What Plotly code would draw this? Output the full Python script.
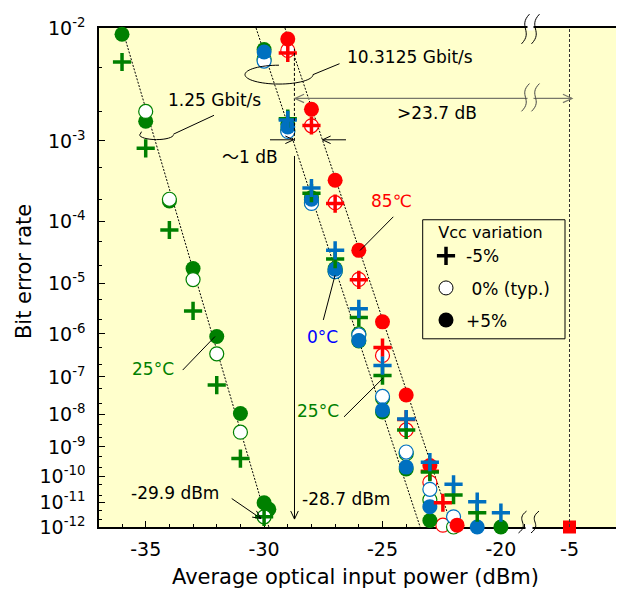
import numpy as np
import plotly.graph_objects as go

# ---------------- data ----------------
# 1.25 Gbit/s, 25 degC
g125_m5_x = [-36, -35, -34, -33, -32, -31, -30]
g125_m5_ber = [5.5e-3, 8.3e-4, 7.4e-5, 3.0e-6, 6.2e-8, 4.1e-10, 2.7e-12]
g125_typ_x = [-35, -34, -33, -32, -31, -30]
g125_typ_ber = [2.0e-3, 2.0e-4, 1.16e-5, 3.6e-7, 2.9e-9, 2.7e-12]
g125_p5_x = [-36, -35, -34, -33, -32, -31, -30, -29.8]
g125_p5_ber = [9.0e-3, 1.6e-3, 1.9e-4, 1.8e-5, 8.8e-7, 1.04e-8, 1.0e-11, 5.5e-12]

# 10.3125 Gbit/s, 0 degC
g10_0_m5_x = [-29, -28, -27, -26, -25, -24, -23, -22, -21, -20]
g10_0_m5_ber = [1.65e-3, 2.8e-4, 3.6e-5, 3.3e-6, 1.9e-7, 7.2e-9, 3.1e-10, 5.1e-11, 1.1e-11, 4e-12]
g10_0_typ_x = [-30, -29, -28, -27, -26, -25, -24, -23, -22]
g10_0_typ_ber = [5.6e-3, 1.26e-3, 1.76e-4, 1.6e-5, 9.5e-7, 3.1e-8, 6.8e-10, 3.3e-11, 2.7e-12]
g10_0_p5_x = [-30, -29, -28, -27, -26, -25, -24, -23, -21]
g10_0_p5_ber = [6.6e-3, 1.4e-3, 2.0e-4, 1.75e-5, 7.2e-7, 1.3e-8, 2.1e-10, 7e-12, 1e-12]

# 10.3125 Gbit/s, 25 degC
g10_25_m5_x = [-29, -28, -27, -26, -25, -24, -23, -22, -21]
g10_25_m5_ber = [1.7e-3, 2.4e-4, 2.6e-5, 2.2e-6, 1.08e-7, 3.4e-9, 1.4e-10, 2e-11, 4e-12]
g10_25_typ_x = [-30, -29, -28, -27, -26, -25, -24, -23, -22]
g10_25_typ_ber = [5.8e-3, 1.3e-3, 1.8e-4, 1.6e-5, 1.0e-6, 2.8e-8, 6e-10, 1.3e-11, 1e-12]
g10_25_p5_x = [-30, -29, -28, -27, -26, -25, -24, -23, -20]
g10_25_p5_ber = [6.9e-3, 1.5e-3, 2.1e-4, 1.8e-5, 7.0e-7, 1.15e-8, 1.8e-10, 1.9e-12, 1e-12]

# 10.3125 Gbit/s, 85 degC
g10_85_m5_x = [-29, -28, -27, -26, -25, -24, -23, -22.45]
g10_85_m5_ber = [6.5e-3, 1.45e-3, 1.75e-4, 1.15e-5, 5.0e-7, 7e-9, 1.5e-10, 1e-11]
g10_85_typ_x = [-29, -28, -27, -26, -25, -24, -23, -22.45]
g10_85_typ_ber = [6.8e-3, 1.44e-3, 1.8e-4, 1.17e-5, 3.3e-7, 3.4e-9, 6e-11, 1.2e-12]
g10_85_p5_x = [-29, -28, -27, -26, -25, -24, -23, -21.85]
g10_85_p5_ber = [8.3e-3, 2.1e-3, 3.5e-4, 3.6e-5, 1.8e-6, 3.4e-8, 2.4e-10, 1.2e-12]

# overload point
ovl_x = [-5]
ovl_ber = [1e-12]

# fitted guide lines (end points)
fit125_x = [-36.0, -29.8]
fit125_ber = [1e-2, 1e-12]
fit10a_x = [-30.34, -23.41]
fit10a_ber = [1e-2, 1e-12]
fit10b_x = [-29.12, -22.06]
fit10b_ber = [1e-2, 1e-12]

sens_10g = -28.72
sens_ovl = -5

ytick_exp = list(range(2, 13))
xtick_vals = [-35, -30, -25, -20]
xtick_text = ["-35", "-30", "-25", "-20"]
x2tick_vals = [-5]
x2tick_text = ["-5"]

# ---------------- helpers ----------------
def q(ber):
    """BER axis (Q-type scale): -log10(-log10(BER))"""
    b = np.asarray(ber, dtype=float)
    return -np.log10(-np.log10(b))

OFF = 8  # page body margin of the browser
W, H = 624 - OFF, 589 - OFF
ML, MR, MT, MB = 99 - OFF, 7, 24 - OFF, 62
PW, PH = W - ML - MR, H - MT - MB

def X(px):
    return (px - OFF - ML) / PW

def Y(py):
    return (H - MB - (py - OFF)) / PH

FONT = "DejaVu Sans, Noto Sans CJK JP, sans-serif"
RED, GREEN, BLUE = "#ff0000", "#008000", "#0070c0"
BG = "#ffffcc"

BREAK_PX = 529
d = X(BREAK_PX)
x1_range = [-35 - (145.7 - 99) / 23.68, -35 + (BREAK_PX - 145.7) / 23.68]
x2_range = [-5 - (569.5 - BREAK_PX) / 23.68, -5 + (617 - 569.5) / 23.68]

fig = go.Figure()

def add_pts(x, ber, kind, color, xa="x", ya="y"):
    if kind == "p5":
        marker = dict(symbol="circle", size=15, color=color, line=dict(width=0))
    elif kind == "typ":
        marker = dict(symbol="circle", size=14, color="white", line=dict(width=1.2, color=color))
    else:
        marker = dict(symbol="cross-thin", size=13, color=color, line=dict(width=3.5, color=color))
    fig.add_trace(go.Scatter(x=x, y=q(ber), mode="markers", marker=marker,
                             showlegend=False, cliponaxis=False, xaxis=xa, yaxis=ya,
                             hoverinfo="skip"))

# fit lines
for fx, fb in [(fit125_x, fit125_ber), (fit10a_x, fit10a_ber), (fit10b_x, fit10b_ber)]:
    fig.add_trace(go.Scatter(x=fx, y=q(fb), mode="lines",
                             line=dict(color="black", width=1, dash="2px,1.5px"),
                             showlegend=False, hoverinfo="skip"))

# 1.25 Gbit/s
add_pts(g125_p5_x, g125_p5_ber, "p5", GREEN)
add_pts(g125_typ_x, g125_typ_ber, "typ", GREEN)
add_pts(g125_m5_x, g125_m5_ber, "m5", GREEN)

# 10.3125 Gbit/s
add_pts(g10_85_typ_x, g10_85_typ_ber, "typ", RED)
add_pts(g10_25_typ_x, g10_25_typ_ber, "typ", GREEN)
add_pts(g10_0_typ_x, g10_0_typ_ber, "typ", BLUE)
add_pts(g10_85_p5_x, g10_85_p5_ber, "p5", RED)
add_pts(g10_25_p5_x, g10_25_p5_ber, "p5", GREEN)
add_pts(g10_0_p5_x, g10_0_p5_ber, "p5", BLUE)
add_pts(g10_85_m5_x, g10_85_m5_ber, "m5", RED)
add_pts(g10_25_m5_x, g10_25_m5_ber, "m5", GREEN)
add_pts(g10_0_m5_x, g10_0_m5_ber, "m5", BLUE)

# overload point on the broken part of the axis
fig.add_trace(go.Scatter(x=ovl_x, y=q(ovl_ber), mode="markers",
                         marker=dict(symbol="square", size=13, color=RED),
                         showlegend=False, cliponaxis=False, xaxis="x2", yaxis="y2",
                         hoverinfo="skip"))

# legend entries
leg = [("-5%", dict(symbol="cross-thin", size=13, color="black", line=dict(width=3.5, color="black"))),
       ("\u00a00% (typ.)", dict(symbol="circle", size=14, color="white", line=dict(width=1, color="black"))),
       ("+5%", dict(symbol="circle", size=15, color="black"))]
for i, (nm, mk) in enumerate(leg):
    fig.add_trace(go.Scatter(x=[None], y=[None], mode="markers", marker=mk, name=nm,
                             legendgroup=f"g{i}", showlegend=True))

# ---------------- shapes ----------------
shapes = []

def seg(pts, color="black", width=1, dash="solid"):
    p = "M " + " L ".join(f"{X(a):.5f},{Y(b):.5f}" for a, b in pts)
    shapes.append(dict(type="path", xref="paper", yref="paper", path=p,
                       line=dict(color=color, width=width, dash=dash), layer="above"))

def arrow(x0, y0, x1, y1, color="black", width=1, head_start=False, head_end=True, L=8, ang=28):
    seg([(x0, y0), (x1, y1)], color, width)
    v = np.array([x1 - x0, y1 - y0], float)
    v /= np.linalg.norm(v)
    a = np.radians(ang)
    def head(tx, ty, dv):
        r1 = np.array([dv[0] * np.cos(a) - dv[1] * np.sin(a), dv[0] * np.sin(a) + dv[1] * np.cos(a)])
        r2 = np.array([dv[0] * np.cos(-a) - dv[1] * np.sin(-a), dv[0] * np.sin(-a) + dv[1] * np.cos(-a)])
        seg([(tx - L * r1[0], ty - L * r1[1]), (tx, ty), (tx - L * r2[0], ty - L * r2[1])], color, width)
    if head_end:
        head(x1, y1, v)
    if head_start:
        head(x0, y0, -v)

def ellipse_arc(cx, cy, rx, ry, quarters):
    k = 0.5523
    pts = {
        "tl": [(cx, cy - ry), (cx - k * rx, cy - ry), (cx - rx, cy - k * ry), (cx - rx, cy)],
        "bl": [(cx - rx, cy), (cx - rx, cy + k * ry), (cx - k * rx, cy + ry), (cx, cy + ry)],
        "br": [(cx, cy + ry), (cx + k * rx, cy + ry), (cx + rx, cy + k * ry), (cx + rx, cy)],
    }
    path = ""
    for i, qd in enumerate(quarters):
        p = pts[qd]
        if i == 0:
            path += f"M {X(p[0][0]):.5f},{Y(p[0][1]):.5f} "
        path += "C " + " ".join(f"{X(a):.5f},{Y(b):.5f}" for a, b in p[1:]) + " "
    shapes.append(dict(type="path", xref="paper", yref="paper", path=path,
                       line=dict(color="black", width=1), layer="above"))

def wave(xc, y0, y1, color="black"):
    h = y1 - y0
    path = (f"M {X(xc + 4):.5f},{Y(y0):.5f} C {X(xc - 8):.5f},{Y(y0 + 0.42 * h):.5f} "
            f"{X(xc + 8):.5f},{Y(y0 + 0.58 * h):.5f} {X(xc - 4):.5f},{Y(y1):.5f}")
    shapes.append(dict(type="path", xref="paper", yref="paper", path=path,
                       line=dict(color=color, width=1), layer="above"))

def rect(x0, y0, x1, y1, fill, line=None):
    shapes.append(dict(type="rect", xref="paper", yref="paper", x0=X(x0), x1=X(x1),
                       y0=Y(y1), y1=Y(y0), fillcolor=fill,
                       line=dict(width=0) if line is None else line, layer="above"))

# -5 dBm dashed vertical line
shapes.append(dict(type="line", xref="x2", yref="y2", x0=sens_ovl, x1=sens_ovl,
                   y0=float(q(1e-12)), y1=float(q(1e-2)),
                   line=dict(color="#333333", width=1, dash="3px,2px"), layer="above"))
# -28.7 dBm dashed vertical guide
shapes.append(dict(type="line", xref="x", yref="y", x0=sens_10g, x1=sens_10g,
                   y0=float(q(1e-3)), y1=float(q(7e-3)),
                   line=dict(color="black", width=1, dash="3px,2px"), layer="above"))

# ellipses + leaders
ellipse_arc(156.5, 131.5, 17, 5, ["bl", "br"])
seg([(140, 131.5), (141.5, 128.5)])
seg([(173.5, 131), (214, 112)])
ellipse_arc(279, 71, 34, 9.5, ["tl", "bl", "br"])
seg([(313, 71), (339.5, 60)])

# ~1 dB arrows
arrow(270, 136.7, 293.5, 136.7, L=9, ang=25)
arrow(346, 136.7, 322.5, 136.7, L=9, ang=25)
# -28.7 dBm vertical arrow
arrow(294.5, 153, 294.5, 519, L=9, ang=25)
# -29.9 dBm arrow
arrow(231.7, 498.3, 261, 518.5, L=9, ang=25)
# >23.7 dB arrow
arrow(295, 95, 572, 95, color="#77776a", width=1.2, head_start=True, L=10, ang=25)

# label leaders
seg([(393.3, 214.3), (360, 248.3)])
seg([(323.3, 318.3), (335, 273.3)])
seg([(182.7, 368.8), (215, 335)])
seg([(344, 416), (383, 377)])

# legend box
rect(422.7, 217.3, 565, 337.3, "rgba(0,0,0,0)", line=dict(color="black", width=1))

# axis breaks
rect(527.5, 21.5, 533.5, 26.5, "white")
rect(527.5, 91.5, 533.5, 98.5, BG)
rect(525.5, 524.5, 532.5, 530, "white")
for xc in (525.5, 535.5):
    wave(xc, 10, 40)
    wave(xc, 80, 108, color="#444444")
for xc in (522.5, 535):
    wave(xc, 511, 533)

# ---------------- annotations ----------------
def txt(s, px, py, color="black", size=17, angle=0):
    return dict(text=s, x=X(px), y=Y(py), xref="paper", yref="paper", showarrow=False,
                xanchor="center", yanchor="middle", textangle=angle,
                font=dict(family=FONT, size=size, color=color))

annotations = [
    txt("1.25 Gbit/s", 214, 97),
    txt("10.3125 Gbit/s", 410, 53),
    txt("\u301c1 dB", 250, 154),
    txt("&gt;23.7 dB", 437, 110),
    txt("85\u2103", 391, 198, color=RED),
    txt("0\u00b0C", 322, 335, color="#0000ff"),
    txt("25\u00b0C", 153, 368, color=GREEN),
    txt("25\u00b0C", 318, 410, color=GREEN),
    txt("-29.9 dBm", 174.5, 493),
    txt("-28.7 dBm", 346, 499),
    txt("Average optical input power (dBm)", 355.5, 577, size=21),
    txt("Bit error rate", 24, 270, size=21, angle=-90),
]

# ---------------- axes ----------------
ytv = [float(q(10.0 ** -k)) for k in ytick_exp]
ytt = [f"10<sup>-{k}</sup>" for k in ytick_exp]
yminor = [float(q(m * 10.0 ** -(k + 1))) for k in range(2, 12) for m in (5, 2)]
yrange = [float(q(1e-12)), float(q(1e-2))]

axis_font = dict(family=FONT, size=19, color="black")

fig.update_layout(
    width=W, height=H,
    margin=dict(l=ML, r=MR, t=MT, b=MB, pad=0),
    paper_bgcolor="white", plot_bgcolor=BG,
    font=dict(family=FONT, size=17, color="black"),
    showlegend=True,
    legend=dict(x=X(426), y=Y(215), xanchor="left", yanchor="top",
                bgcolor="rgba(0,0,0,0)", borderwidth=0,
                font=dict(family=FONT, size=17, color="black"),
                title=dict(text="Vcc variation", side="top center",
                           font=dict(family=FONT, size=16, color="black")),
                traceorder="grouped", tracegroupgap=7, itemsizing="trace"),
    xaxis=dict(domain=[0, d], range=x1_range, anchor="y",
               tickmode="array", tickvals=xtick_vals, ticktext=xtick_text,
               ticks="inside", ticklen=6, tickcolor="black", tickwidth=1,
               minor=dict(dtick=1, tick0=0, ticks="inside", ticklen=3, tickcolor="black"),
               showline=True, linecolor="black", linewidth=1.5, mirror=True,
               showgrid=False, zeroline=False, tickfont=axis_font,
               ticklabelstandoff=4, layer="below traces"),
    xaxis2=dict(domain=[d, 1], range=x2_range, anchor="y2",
                tickmode="array", tickvals=x2tick_vals, ticktext=x2tick_text,
                ticks="inside", ticklen=6, tickcolor="black",
                showline=True, linecolor="black", linewidth=1.5, mirror=True,
                showgrid=False, zeroline=False, tickfont=axis_font,
                ticklabelstandoff=4, layer="below traces"),
    yaxis=dict(range=yrange, anchor="x", tickmode="array", tickvals=ytv, ticktext=ytt,
               ticks="inside", ticklen=6, tickcolor="black", tickwidth=1,
               minor=dict(tickmode="array", tickvals=yminor, ticks="inside", ticklen=3,
                          tickcolor="black"),
               showline=True, linecolor="black", linewidth=1.5,
               showgrid=False, zeroline=False, tickfont=axis_font,
               ticklabelstandoff=8, layer="below traces"),
    yaxis2=dict(range=yrange, anchor="x2", side="right", matches="y",
                showticklabels=False, ticks="",
                showline=True, linecolor="black", linewidth=1.5,
                showgrid=False, zeroline=False, layer="below traces"),
    shapes=shapes,
    annotations=annotations,
)

fig.write_html("out.html")
